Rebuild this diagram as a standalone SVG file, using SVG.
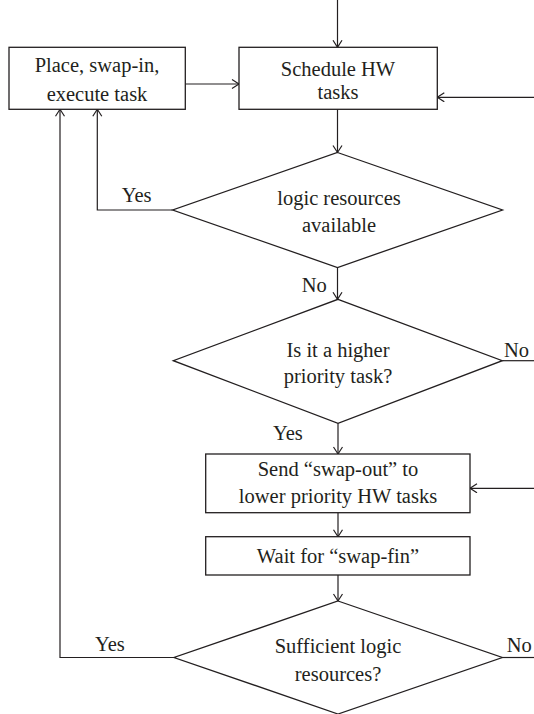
<svg xmlns="http://www.w3.org/2000/svg" width="534" height="714" viewBox="0 0 534 714">
<defs>
<style>
.shape{fill:#fff;stroke:#231f20;stroke-width:1.3}
.conn{fill:none;stroke:#231f20;stroke-width:1.2}
text{font-family:"Liberation Serif","Times New Roman",serif;font-size:20.5px;fill:#231f20}
.c{text-anchor:middle}
</style>
<marker id="arr" markerUnits="userSpaceOnUse" markerWidth="12" markerHeight="12" refX="8" refY="5" orient="auto">
<path d="M1,0.5 L8,5 L1,9.5" fill="none" stroke="#231f20" stroke-width="1.2"/>
</marker>
</defs>
<rect width="534" height="714" fill="#fff"/>
<g id="connectors">
<path class="conn" d="M337.5,0 V47.3" marker-end="url(#arr)"/>
<path class="conn" d="M185.3,84 H239" marker-end="url(#arr)"/>
<path class="conn" d="M534,97.3 H437.3" marker-end="url(#arr)"/>
<path class="conn" d="M337.5,109.3 V152.5" marker-end="url(#arr)"/>
<path class="conn" d="M172.7,210 H97.3 V109.3" marker-end="url(#arr)"/>
<path class="conn" d="M337.5,267.5 V299.3" marker-end="url(#arr)"/>
<path class="conn" d="M502.3,360.7 H534"/>
<path class="conn" d="M338,423.3 V454" marker-end="url(#arr)"/>
<path class="conn" d="M534,488.3 H470" marker-end="url(#arr)"/>
<path class="conn" d="M338,512.7 V536.7" marker-end="url(#arr)"/>
<path class="conn" d="M338,575 V601" marker-end="url(#arr)"/>
<path class="conn" d="M174,657.5 H60 V109.3" marker-end="url(#arr)"/>
<path class="conn" d="M502.3,657.5 H534"/>
<text x="121.7" y="201.7">Yes</text>
<text x="301.7" y="291.7">No</text>
<text x="504" y="357.3">No</text>
<text x="273" y="440">Yes</text>
<text x="95" y="650.7">Yes</text>
<text x="506.7" y="651.7">No</text>
</g>
<g id="place">
<rect class="shape" x="9" y="47.3" width="176.3" height="62"/>
<text class="c" x="97" y="71.5">Place, swap-in,</text>
<text class="c" x="97" y="100.5">execute task</text>
</g>
<g id="schedule">
<rect class="shape" x="239" y="47.3" width="198.3" height="62"/>
<text class="c" x="338" y="75.7">Schedule HW</text>
<text class="c" x="338" y="98.5">tasks</text>
</g>
<g id="logic-available">
<polygon class="shape" points="337.5,152.5 502.5,210 337.5,267.5 172.7,210"/>
<text class="c" x="339" y="205">logic resources</text>
<text class="c" x="339" y="231.7">available</text>
</g>
<g id="higher-priority">
<polygon class="shape" points="338,299.3 502.3,360.7 338,423.3 173.3,360.7"/>
<text class="c" x="338" y="357.3">Is it a higher</text>
<text class="c" x="338" y="382.7">priority task?</text>
</g>
<g id="send-swap-out">
<rect class="shape" x="205.7" y="454" width="264.3" height="58.7"/>
<text class="c" x="338" y="476">Send “swap-out” to</text>
<text class="c" x="338" y="503.3">lower priority HW tasks</text>
</g>
<g id="wait-swap-fin">
<rect class="shape" x="205.7" y="536.7" width="264.3" height="38.3"/>
<text class="c" x="338" y="562.7">Wait for “swap-fin”</text>
</g>
<g id="sufficient">
<polygon class="shape" points="338,601 502.3,657.5 338,714 174,657.5"/>
<text class="c" x="338" y="653.3">Sufficient logic</text>
<text class="c" x="338" y="680.7">resources?</text>
</g>
</svg>
